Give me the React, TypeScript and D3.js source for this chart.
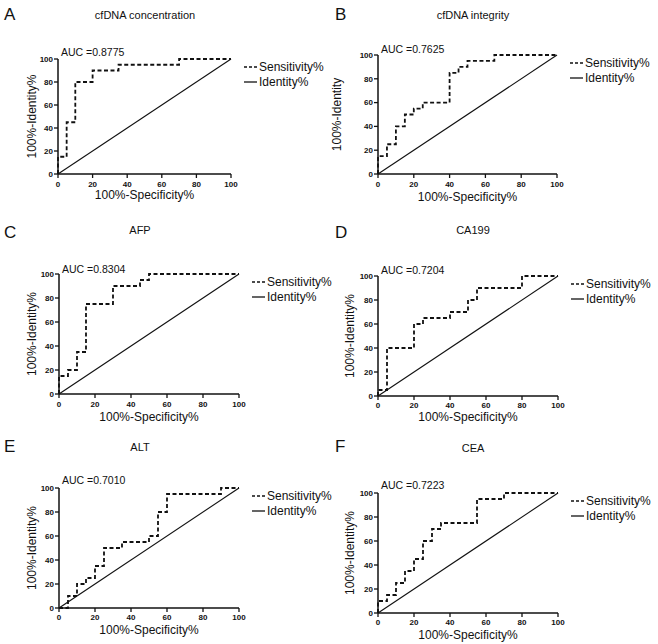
import React from "react";
import * as d3 from "d3";

const panelLetters = ["A", "B", "C", "D", "E", "F"];
const panelTitles = ["cfDNA concentration", "cfDNA integrity", "AFP", "CA199", "ALT", "CEA"];
const aucLabels = ["AUC =0.8775", "AUC =0.7625", "AUC =0.8304", "AUC =0.7204", "AUC =0.7010", "AUC =0.7223"];
const yTitles = ["100%-Identity%", "100%-Identity", "100%-Identity%", "100%-Identity%", "100%-Identity%", "100%-Identity%"];
const xTitle = "100%-Specificity%";
const legendLabels = ["Sensitivity%", "Identity%"];
const tickValues = [0, 20, 40, 60, 80, 100];

// ROC step points (100%-Specificity%, Sensitivity%)
const fprA = [0, 0, 5, 10, 20, 35, 70, 100];
const tprA = [0, 15, 45, 80, 90, 95, 100, 100];
const fprB = [0, 0, 5, 10, 15, 20, 25, 40, 45, 50, 65, 100];
const tprB = [0, 15, 25, 40, 50, 55, 60, 85, 90, 95, 100, 100];
const fprC = [0, 0, 5, 10, 15, 30, 45, 50, 100];
const tprC = [0, 15, 20, 35, 75, 90, 95, 100, 100];
const fprD = [0, 0, 5, 20, 25, 40, 50, 55, 80, 100];
const tprD = [0, 5, 40, 60, 65, 70, 80, 90, 100, 100];
const fprE = [0, 5, 10, 15, 20, 25, 35, 50, 55, 60, 90, 100];
const tprE = [0, 10, 20, 25, 35, 50, 55, 60, 80, 95, 100, 100];
const fprF = [0, 0, 5, 10, 15, 20, 25, 30, 35, 55, 70, 100];
const tprF = [0, 10, 15, 25, 35, 45, 60, 70, 75, 95, 100, 100];

const fprs = [fprA, fprB, fprC, fprD, fprE, fprF];
const tprs = [tprA, tprB, tprC, tprD, tprE, tprF];
const identity = [0, 100];

// layout: plot rectangles and text placements
const layouts = [
  { x0: 58, x1: 231, yT: 59, yB: 174, letterX: 4, letterY: 20, titleX: 145, titleY: 19, aucY: 56, yTitleX: 32, xTitleY: 199, xLabY: 187 },
  { x0: 378, x1: 557, yT: 55, yB: 174, letterX: 335, letterY: 20, titleX: 473, titleY: 19, aucY: 53, yTitleX: 337, xTitleY: 201, xLabY: 187 },
  { x0: 59, x1: 239, yT: 274, yB: 394, letterX: 4, letterY: 238, titleX: 140, titleY: 234, aucY: 273, yTitleX: 32, xTitleY: 421, xLabY: 407 },
  { x0: 378, x1: 558, yT: 276, yB: 396, letterX: 335, letterY: 238, titleX: 473, titleY: 234, aucY: 274, yTitleX: 350, xTitleY: 421, xLabY: 408 },
  { x0: 59, x1: 239, yT: 488, yB: 608, letterX: 4, letterY: 452, titleX: 140, titleY: 451, aucY: 484, yTitleX: 32, xTitleY: 634, xLabY: 620 },
  { x0: 378, x1: 558, yT: 493, yB: 613, letterX: 335, letterY: 452, titleX: 473, titleY: 452, aucY: 489, yTitleX: 350, xTitleY: 639, xLabY: 625 },
];

const FONT = "'Liberation Sans', Arial, Helvetica, sans-serif";

function Panel({ i }: { i: number }) {
  const L = layouts[i];
  const x = d3.scaleLinear().domain([0, 100]).range([L.x0, L.x1]);
  const y = d3.scaleLinear().domain([0, 100]).range([L.yB, L.yT]);
  const pts: [number, number][] = fprs[i].map((f, k) => [f, tprs[i][k]]);
  const roc = d3
    .line<[number, number]>()
    .x((d) => x(d[0]))
    .y((d) => y(d[1]))
    .curve(d3.curveStepAfter)(pts);
  const idLine = d3
    .line<number>()
    .x((d) => x(d))
    .y((d) => y(d))(identity);
  const lx = L.x1 + 13;
  const r1 = L.yT + 8;
  const r2 = L.yT + 23;
  return (
    <g fontFamily={FONT} fill="#111">
      <text x={L.letterX} y={L.letterY} fontSize={17}>{panelLetters[i]}</text>
      <text x={L.titleX} y={L.titleY} fontSize={11} textAnchor="middle">{panelTitles[i]}</text>
      <text x={L.x0 + 3} y={L.aucY} fontSize={10.5}>{aucLabels[i]}</text>
      <path d={idLine || ""} fill="none" stroke="#111" strokeWidth={1.1} />
      <path d={roc || ""} fill="none" stroke="#111" strokeWidth={1.8} strokeDasharray="4,2.5" />
      <line x1={L.x0} x2={L.x0} y1={y(100)} y2={y(0)} stroke="#111" strokeWidth={1.5} />
      <line x1={L.x0} x2={L.x1} y1={y(0)} y2={y(0)} stroke="#111" strokeWidth={1.5} />
      {tickValues.map((t) => (
        <g key={"y" + t}>
          <line x1={L.x0 - 4} x2={L.x0} y1={y(t)} y2={y(t)} stroke="#111" strokeWidth={1.3} />
          <text x={L.x0 - 5} y={y(t)} dy="0.35em" fontSize={8} fontWeight="bold" textAnchor="end">{t}</text>
        </g>
      ))}
      {tickValues.map((t) => (
        <g key={"x" + t}>
          <line x1={x(t)} x2={x(t)} y1={L.yB} y2={L.yB + 4} stroke="#111" strokeWidth={1.3} />
          <text x={x(t)} y={L.xLabY} fontSize={8} fontWeight="bold" textAnchor="middle">{t}</text>
        </g>
      ))}
      <text x={(L.x0 + L.x1) / 2} y={L.xTitleY} fontSize={12} textAnchor="middle">{xTitle}</text>
      <text
        transform={`translate(${L.yTitleX + 4},${(L.yT + L.yB) / 2}) rotate(-90)`}
        fontSize={12}
        textAnchor="middle"
      >
        {yTitles[i]}
      </text>
      <line x1={lx} x2={lx + 13} y1={r1} y2={r1} stroke="#111" strokeWidth={1.6} strokeDasharray="3,2" />
      <text x={lx + 15} y={r1} dy="0.35em" fontSize={12}>{legendLabels[0]}</text>
      <line x1={lx} x2={lx + 13} y1={r2} y2={r2} stroke="#111" strokeWidth={1.3} />
      <text x={lx + 15} y={r2} dy="0.35em" fontSize={12}>{legendLabels[1]}</text>
    </g>
  );
}

export default function App() {
  return (
    <svg
      width={658}
      height={644}
      style={{ position: "absolute", left: 0, top: 0, background: "#fff" }}
    >
      <rect width={658} height={644} fill="#fff" />
      {layouts.map((_, i) => (
        <Panel key={i} i={i} />
      ))}
    </svg>
  );
}
